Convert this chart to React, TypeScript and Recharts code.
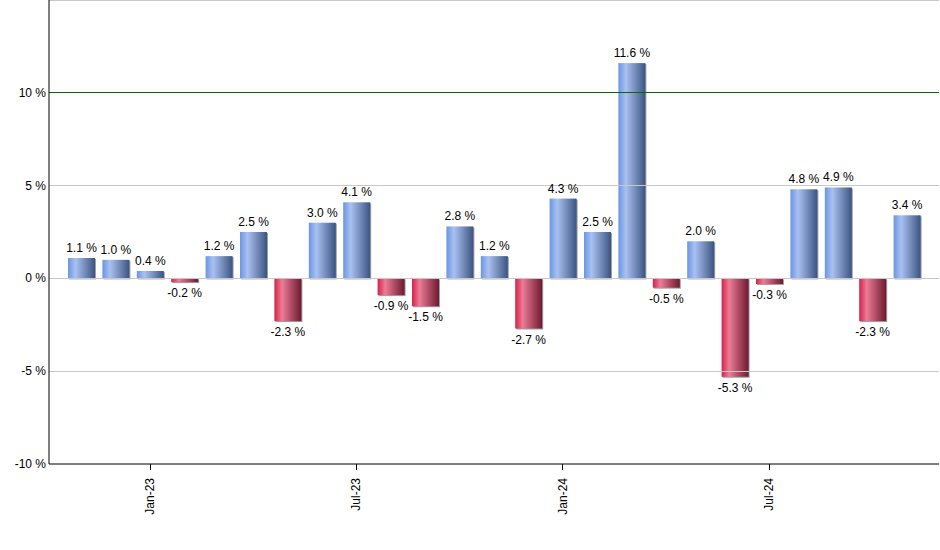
import React from 'react';
import { BarChart, Bar, XAxis, YAxis, ReferenceLine, LabelList } from 'recharts';

const months = ['Nov-22','Dec-22','Jan-23','Feb-23','Mar-23','Apr-23','May-23','Jun-23','Jul-23','Aug-23','Sep-23','Oct-23','Nov-23','Dec-23','Jan-24','Feb-24','Mar-24','Apr-24','May-24','Jun-24','Jul-24','Aug-24','Sep-24','Oct-24','Nov-24'];
const values = [1.1, 1.0, 0.4, -0.2, 1.2, 2.5, -2.3, 3.0, 4.1, -0.9, -1.5, 2.8, 1.2, -2.7, 4.3, 2.5, 11.6, -0.5, 2.0, -5.3, -0.3, 4.8, 4.9, -2.3, 3.4];
const shownTicks = ['Jan-23', 'Jul-23', 'Jan-24', 'Jul-24'];
const yTicks = [-10, -5, 0, 5, 10];

const data = months.map((m, i) => ({ month: m, value: values[i] }));
const FONT = '"Liberation Sans", Arial, sans-serif';

const BarShape = (props: any) => {
  const { x, y, width, height, value } = props;
  const h = Math.abs(height);
  const top = height < 0 ? y + height : y;
  if (h <= 0) return null;
  const fill = value >= 0 ? 'url(#gradBlue)' : 'url(#gradRed)';
  return (
    <g>
      <rect x={x + 1} y={top + 1} width={width} height={h} fill="#a0a0a0" />
      <rect x={x} y={top} width={width} height={h} fill={fill} />
    </g>
  );
};

const XTick = (props: any) => {
  const { x, y, payload } = props;
  if (!shownTicks.includes(payload.value)) return null;
  return (
    <g>
      <line x1={x} x2={x} y1={y - 8} y2={y - 2} stroke="#000" strokeWidth={1} shapeRendering="crispEdges" />
      <text
        x={0}
        y={0}
        transform={`translate(${x + 4},${y + 6}) rotate(-90)`}
        textAnchor="end"
        fontSize={12}
        fontFamily={FONT}
        fill="#000"
      >
        {payload.value}
      </text>
    </g>
  );
};

const YTick = (props: any) => {
  const { y, payload } = props;
  return (
    <text x={46} y={y + 4} textAnchor="end" fontSize={12} fontFamily={FONT} fill="#000">
      {`${payload.value} %`}
    </text>
  );
};

const ValueLabel = (props: any) => {
  const { x, y, width, height, value } = props;
  const cx = x + width / 2;
  const neg = value < 0;
  const bottom = height < 0 ? y : y + height;
  const top = height < 0 ? y + height : y;
  const ty = neg ? Math.max(bottom, top) + 15 : Math.min(top, bottom) - 6;
  return (
    <text x={cx} y={ty} textAnchor="middle" fontSize={12} fontFamily={FONT} fill="#000">
      {`${value.toFixed(1)} %`}
    </text>
  );
};

export default function App() {
  return (
    <div style={{ position: 'absolute', left: 0, top: 0, background: '#fff' }}>
      <BarChart
        width={940}
        height={550}
        data={data}
        margin={{ top: 0, right: 1, bottom: 0, left: 0 }}
        barSize={27}
      >
        <defs>
          <linearGradient id="gradBlue" x1="0" y1="0" x2="1" y2="0">
            <stop offset="0%" stopColor="#6a95e4" />
            <stop offset="28%" stopColor="#a9c1f0" />
            <stop offset="60%" stopColor="#7a91c0" />
            <stop offset="100%" stopColor="#3a5480" />
          </linearGradient>
          <linearGradient id="gradRed" x1="0" y1="0" x2="1" y2="0">
            <stop offset="0%" stopColor="#d8204a" />
            <stop offset="28%" stopColor="#ec7d96" />
            <stop offset="62%" stopColor="#b04c64" />
            <stop offset="100%" stopColor="#6c1a30" />
          </linearGradient>
        </defs>
        <ReferenceLine y={15} stroke="#c8c8c8" strokeWidth={1} shapeRendering="crispEdges" />
        <ReferenceLine y={5} stroke="#c8c8c8" strokeWidth={1} shapeRendering="crispEdges" />
        <ReferenceLine y={0} stroke="#c8c8c8" strokeWidth={1} shapeRendering="crispEdges" />
        <ReferenceLine y={-5} stroke="#c8c8c8" strokeWidth={1} shapeRendering="crispEdges" />
        <ReferenceLine y={10} stroke="#0c640c" strokeWidth={1} shapeRendering="crispEdges" />
        <XAxis
          dataKey="month"
          interval={0}
          height={86}
          tickLine={false}
          axisLine={{ stroke: '#000', strokeWidth: 1 }}
          padding={{ left: 15, right: 15 }}
          tick={<XTick />}
        />
        <YAxis
          width={49}
          domain={[-10, 15]}
          ticks={yTicks}
          allowDataOverflow
          tickLine={false}
          axisLine={{ stroke: '#000', strokeWidth: 1 }}
          tick={<YTick />}
        />
        <Bar dataKey="value" isAnimationActive={false} shape={<BarShape />}>
          <LabelList dataKey="value" content={<ValueLabel />} />
        </Bar>
      </BarChart>
    </div>
  );
}
